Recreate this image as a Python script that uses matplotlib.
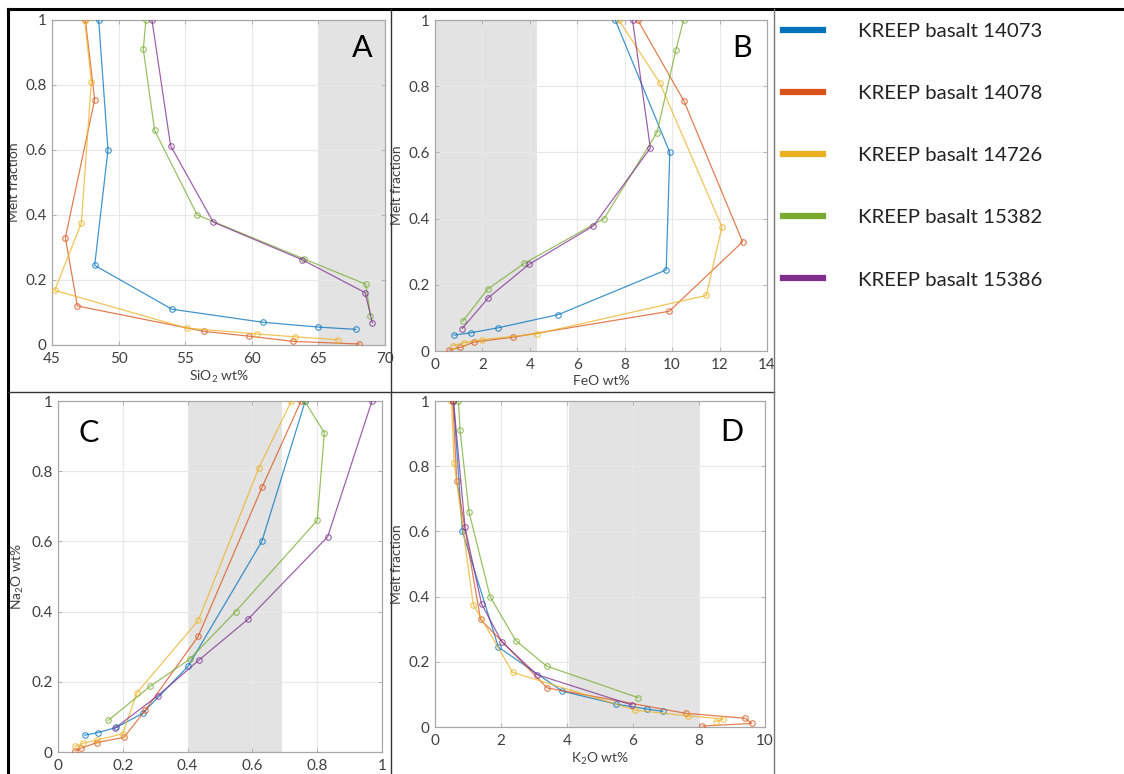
import matplotlib
matplotlib.use('Agg')
import matplotlib.pyplot as plt
from matplotlib.lines import Line2D

# melt fraction and oxide content (wt%) for each KREEP basalt
samples = ['KREEP basalt 14073', 'KREEP basalt 14078', 'KREEP basalt 14726',
           'KREEP basalt 15382', 'KREEP basalt 15386']
colors = ['#0072BD', '#D95319', '#EDB120', '#77AC30', '#7E2F8E']

mf_14073 = [1.0, 0.6, 0.245, 0.11, 0.07, 0.055, 0.048]
sio2_14073 = [48.5, 49.2, 48.2, 54.0, 60.8, 65.0, 67.8]
feo_14073 = [7.6, 9.9, 9.75, 5.2, 2.65, 1.5, 0.8]
na2o_14073 = [0.763, 0.629, 0.402, 0.261, 0.18, 0.122, 0.082]
k2o_14073 = [0.56, 0.83, 1.92, 3.86, 5.5, 6.43, 6.9]

mf_14078 = [1.0, 0.755, 0.33, 0.12, 0.042, 0.027, 0.011, 0.003]
sio2_14078 = [47.5, 48.2, 46.0, 46.9, 56.4, 59.8, 63.1, 68.05]
feo_14078 = [8.55, 10.5, 12.97, 9.88, 3.3, 1.66, 1.06, 0.6]
na2o_14078 = [0.75, 0.63, 0.433, 0.27, 0.204, 0.12, 0.072, 0.053]
k2o_14078 = [0.54, 0.66, 1.38, 3.40, 7.6, 9.39, 9.6, 8.1]

mf_14726 = [1.0, 0.81, 0.375, 0.168, 0.052, 0.034, 0.025, 0.016]
sio2_14726 = [47.45, 47.95, 47.2, 45.2, 55.1, 60.4, 63.25, 66.5]
feo_14726 = [7.75, 9.48, 12.1, 11.44, 4.3, 2.0, 1.22, 0.75]
na2o_14726 = [0.72, 0.62, 0.433, 0.243, 0.20, 0.12, 0.078, 0.052]
k2o_14726 = [0.5, 0.58, 1.16, 2.35, 6.06, 7.66, 8.74, 8.52]

mf_15382 = [1.0, 0.91, 0.66, 0.40, 0.265, 0.187, 0.09]
sio2_15382 = [52.05, 51.85, 52.7, 55.9, 63.9, 68.55, 68.9]
feo_15382 = [10.48, 10.16, 9.36, 7.13, 3.77, 2.22, 1.17]
na2o_15382 = [0.761, 0.822, 0.80, 0.548, 0.407, 0.284, 0.155]
k2o_15382 = [0.71, 0.76, 1.03, 1.67, 2.45, 3.38, 6.16]

mf_15386 = [1.0, 0.613, 0.378, 0.262, 0.161, 0.068]
sio2_15386 = [52.5, 53.9, 57.1, 63.8, 68.5, 69.05]
feo_15386 = [8.33, 9.08, 6.68, 3.97, 2.25, 1.15]
na2o_15386 = [0.969, 0.832, 0.586, 0.435, 0.309, 0.176]
k2o_15386 = [0.56, 0.91, 1.41, 2.02, 3.08, 5.96]

mf = [mf_14073, mf_14078, mf_14726, mf_15382, mf_15386]
sio2 = [sio2_14073, sio2_14078, sio2_14726, sio2_15382, sio2_15386]
feo = [feo_14073, feo_14078, feo_14726, feo_15382, feo_15386]
na2o = [na2o_14073, na2o_14078, na2o_14726, na2o_15382, na2o_15386]
k2o = [k2o_14073, k2o_14078, k2o_14726, k2o_15382, k2o_15386]

y_ticks = [0, 0.2, 0.4, 0.6, 0.8, 1]
y_ticklabels = ['0', '0.2', '0.4', '0.6', '0.8', '1']

plt.rcParams['font.family'] = ['Lato', 'DejaVu Sans']
plt.rcParams['mathtext.fontset'] = 'custom'
plt.rcParams['mathtext.rm'] = 'Lato'
plt.rcParams['mathtext.it'] = 'Lato:italic'

fig = plt.figure(figsize=(11.24, 7.74), dpi=100)

panels = [
    # data, pos, xlim, xticks, xticklabels, shade, xlabel, ylabel, letter, letter pos
    (sio2, [0.0463, 0.5543, 0.2963, 0.4199], (45, 70), [45, 50, 55, 60, 65, 70],
     ['45', '50', '55', '60', '65', '70'], (65, 70), 'SiO$_2$ wt%', 'Melt fraction', 'A', (0.93, 0.915)),
    (feo, [0.387, 0.5465, 0.2954, 0.4276], (0, 14), [0, 2, 4, 6, 8, 10, 12, 14],
     ['0', '2', '4', '6', '8', '10', '12', '14'], (0, 4.3), 'FeO wt%', 'Melt fraction', 'B', (0.925, 0.915)),
    (na2o, [0.0516, 0.0284, 0.2883, 0.4535], (0, 1), [0, 0.2, 0.4, 0.6, 0.8, 1],
     ['0', '0.2', '0.4', '0.6', '0.8', '1'], (0.4, 0.69), None, 'Na$_2$O wt%', 'C', (0.095, 0.91)),
    (k2o, [0.387, 0.0607, 0.2936, 0.4212], (0, 10), [0, 2, 4, 6, 8, 10],
     ['0', '2', '4', '6', '8', '10'], (4.05, 8.0), 'K$_2$O wt%', 'Melt fraction', 'D', (0.9, 0.905)),
]

for data, pos, xlim, xticks, xticklabels, shade, xlabel, ylabel, letter, lpos in panels:
    ax = fig.add_axes(pos)
    ax.axvspan(shade[0], shade[1], color='#e3e3e3', lw=0, zorder=0)
    for i in range(len(samples)):
        ax.plot(data[i], mf[i], '-o', color=colors[i], lw=0.9, ms=4,
                mfc='none', mew=0.8, alpha=0.75, zorder=3)
    ax.set_xlim(xlim)
    ax.set_ylim(0, 1)
    ax.set_xticks(xticks)
    ax.set_xticklabels(xticklabels)
    ax.set_yticks(y_ticks)
    ax.set_yticklabels(y_ticklabels)
    ax.grid(True, color='#e8e8e8', lw=0.8, zorder=1)
    ax.set_axisbelow(True)
    for s in ax.spines.values():
        s.set_color('#a8a8a8')
        s.set_linewidth(0.9)
    ax.tick_params(direction='in', length=3, width=0.6, color='#a8a8a8',
                   labelcolor='#404040', labelsize=11, top=True, right=True)
    ax.tick_params(axis='x', pad=5)
    ax.tick_params(axis='y', pad=4)
    if xlabel:
        ax.set_xlabel(xlabel, fontsize=10, color='#404040', labelpad=2)
    ax.set_ylabel(ylabel, fontsize=10, color='#404040', labelpad=4)
    ax.text(lpos[0], lpos[1], letter, transform=ax.transAxes, fontsize=22,
            ha='center', va='center', color='black')

# panel frame lines
W, H = 1124.0, 774.0
def fline(x0, y0, x1, y1, lw, c):
    fig.add_artist(Line2D([x0 / W, x1 / W], [1 - y0 / H, 1 - y1 / H],
                          transform=fig.transFigure, color=c, lw=lw))

fline(8, 9, 1124, 9, 2.2, 'black')
fline(8, 9, 8, 774, 2.2, 'black')
fline(391, 9, 391, 774, 1.0, '#333333')
fline(8, 392, 774, 392, 1.0, '#333333')
fline(774, 9, 774, 774, 1.0, '#777777')

handles = [Line2D([0], [0], color=c, lw=4.5) for c in colors]
fig.legend(handles, samples, loc='upper left', bbox_to_anchor=(765 / W, 1 - 4 / H),
           frameon=False, fontsize=14.7, handlelength=1.96, handletextpad=1.7,
           labelspacing=2.2, labelcolor='#222222')

fig.savefig('out.png', dpi=100)
